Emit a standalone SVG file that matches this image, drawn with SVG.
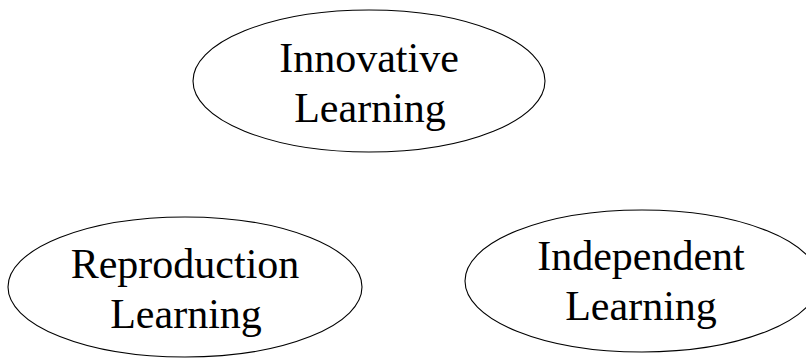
<svg xmlns="http://www.w3.org/2000/svg" width="806" height="358" viewBox="0 0 806 358">
<style>
.n{fill:#fff;stroke:#000;stroke-width:1.1}
.t{font-family:"Liberation Serif","Times New Roman",serif;font-size:42px;fill:#000;text-anchor:middle}
</style>
<rect width="806" height="358" fill="#fff"/>
<g id="connectors"></g>
<g id="innovative">
<ellipse class="n" cx="369" cy="81" rx="176" ry="71"/>
<text class="t" x="369" y="72">Innovative</text>
<text class="t" x="370" y="122">Learning</text>
</g>
<g id="reproduction">
<ellipse class="n" cx="185" cy="287" rx="177" ry="70"/>
<text class="t" x="185" y="278">Reproduction</text>
<text class="t" x="186" y="328">Learning</text>
</g>
<g id="independent">
<ellipse class="n" cx="642" cy="281" rx="177" ry="71"/>
<text class="t" x="641" y="270">Independent</text>
<text class="t" x="641" y="320">Learning</text>
</g>
</svg>
